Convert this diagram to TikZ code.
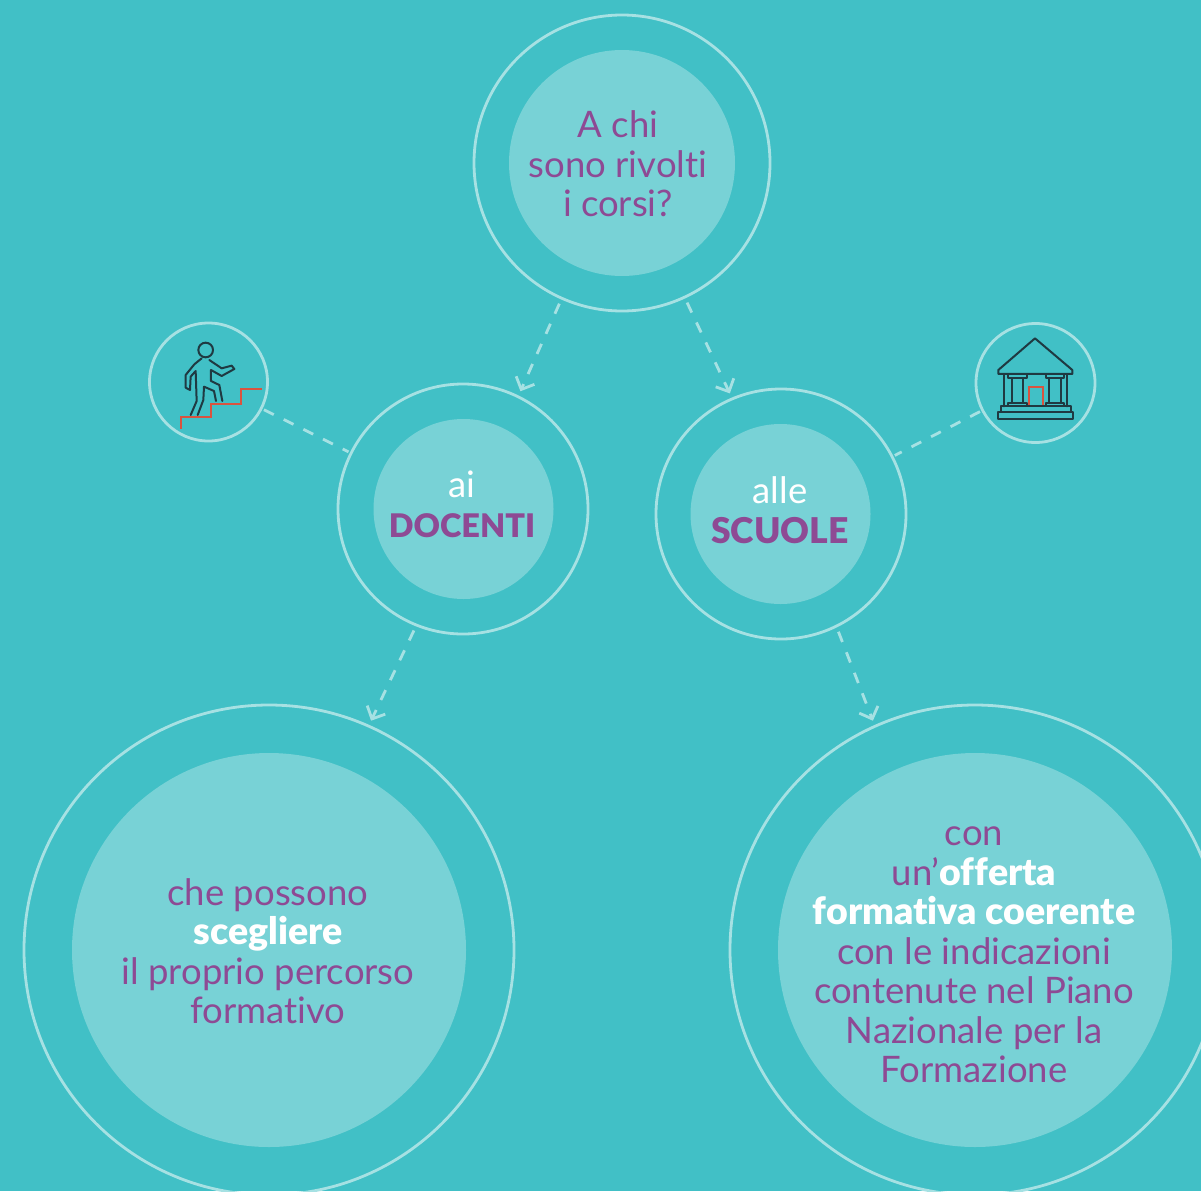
\documentclass[tikz,border=0pt]{standalone}
\usepackage{fontspec}
\setmainfont{Lato}[BoldFont={Lato Black},Ligatures={NoCommon}]
\usetikzlibrary{arrows.meta}
\definecolor{bgc}{HTML}{41C0C6}
\definecolor{innerc}{HTML}{78D2D6}
\definecolor{ringc}{HTML}{A6E1E3}
\definecolor{purp}{HTML}{8E4A94}
\definecolor{darkc}{HTML}{1F3A42}
\definecolor{redc}{HTML}{D9533F}
\newcommand{\bigb}[1]{{\fontsize{37.5}{39.5}\selectfont\bfseries #1}}
\tikzset{
  x=1pt,y=-1pt,
  ring/.style={circle,draw=ringc,line width=2.8pt,minimum size=#1,inner sep=0pt,outer sep=6pt},
  disc/.style={circle,fill=innerc,minimum size=#1,inner sep=0pt},
  lab/.style={align=center,text=purp,font=\fontsize{36.5}{39.5}\selectfont,inner sep=0pt},
  link/.style={draw=ringc,line width=2.8pt,dash pattern=on 11pt off 11pt},
  arrowlink/.style={link,-{Straight Barb[length=10pt,width=20pt,line width=2.8pt]}},
  iconline/.style={draw=darkc,line width=2pt,line join=round,line cap=round},
  iconred/.style={draw=redc,line width=2pt,line join=miter},
}
\begin{document}
\begin{tikzpicture}
\fill[bgc] (0,0) rectangle (1201,1191);
\clip (0,0) rectangle (1201,1191);
% discs
\node[disc=226pt] (topd) at (622,163) {};
\node[disc=180pt] (docd) at (463.5,509) {};
\node[disc=180pt] (scud) at (780.5,514) {};
\node[disc=394pt] (bld) at (269,950) {};
\node[disc=394pt] (brd) at (975,950) {};
% rings
\node[ring=296pt] (top) at (622,163) {};
\node[ring=250pt] (doc) at (463,509) {};
\node[ring=250pt] (scu) at (781,514) {};
\node[ring=490pt] (bl) at (269,950) {};
\node[ring=490pt] (br) at (975,950) {};
\node[ring=118pt] (icl) at (208.5,382) {};
\node[ring=119pt] (icr) at (1035.5,383) {};
% connectors
\draw[arrowlink] (top.246) -- (doc.64);
\draw[arrowlink] (top.295) -- (scu.113.5);
\draw[arrowlink] (doc.248.5) -- (bl.66);
\draw[arrowlink] (scu.296) -- (br.114);
\draw[link,shorten >=-3pt,shorten <=-3pt] (icl) -- (doc);
\draw[link,shorten >=-3pt,shorten <=-3pt] (icr) -- (scu);
% labels
\node[lab] (t1) at (618,164) {A chi\\sono rivolti\\i corsi?};
\node[lab] (t2) at (462,504.5) {\textcolor{white}{ai}\\{\fontsize{32.5}{39.5}\selectfont\bfseries DOCENTI}};
\node[lab] (t3) at (780,510) {\textcolor{white}{alle}\\{\fontsize{35.5}{39.5}\selectfont\bfseries SCUOLE}};
\node[lab] (t4) at (268,951) {che possono\\\textcolor{white}{\bigb{scegliere}}\\il proprio percorso\\formativo};
\node[lab] (t5) at (974,955) {con\\un'\textcolor{white}{\bigb{offerta}}\\\textcolor{white}{\bigb{formativa coerente}}\\con le indicazioni\\contenute nel Piano\\Nazionale per la\\Formazione};
% climber icon
\begin{scope}[shift={(140,315)},x=0.3333pt,y=-0.3333pt]
\draw[iconline] (197,105) circle[radius=22];
\draw[iconline] (185,130) -- (163,148) -- (137,180) -- (137,218) -- (150,225) -- (152,185) -- (167,168) -- (170,258) -- (152,300);
\draw[iconline] (208,135) -- (245,160) -- (275,152) -- (283,162) -- (245,183) -- (213,165) -- (213,198) -- (238,210) -- (247,258);
\draw[iconline] (173,300) -- (190,255) -- (192,215) -- (222,228) -- (228,258);
\draw[iconred] (122,342) -- (122,307) -- (213,307) -- (213,266) -- (304,266) -- (304,222) -- (365,222);
\end{scope}
% building icon
\begin{scope}[shift={(965,315)},x=0.3333pt,y=-0.3333pt]
\draw[iconline] (100,165) -- (210,70) -- (322,165) -- (322,177) -- (100,177) -- cycle;
\draw[iconline] (117,178) -- (117,274) (305,178) -- (305,274);
\draw[iconline] (130,178) rectangle (185,190) (242,178) rectangle (297,190);
\draw[iconline] (140,190) rectangle (175,263) (252,190) rectangle (287,263);
\draw[iconline] (130,263) rectangle (185,274) (242,263) rectangle (297,274);
\draw[iconred] (193,274) -- (193,217) -- (233,217) -- (233,274);
\draw[iconline] (108,274) rectangle (317,292) (100,292) rectangle (325,312);
\end{scope}
\end{tikzpicture}
\end{document}
